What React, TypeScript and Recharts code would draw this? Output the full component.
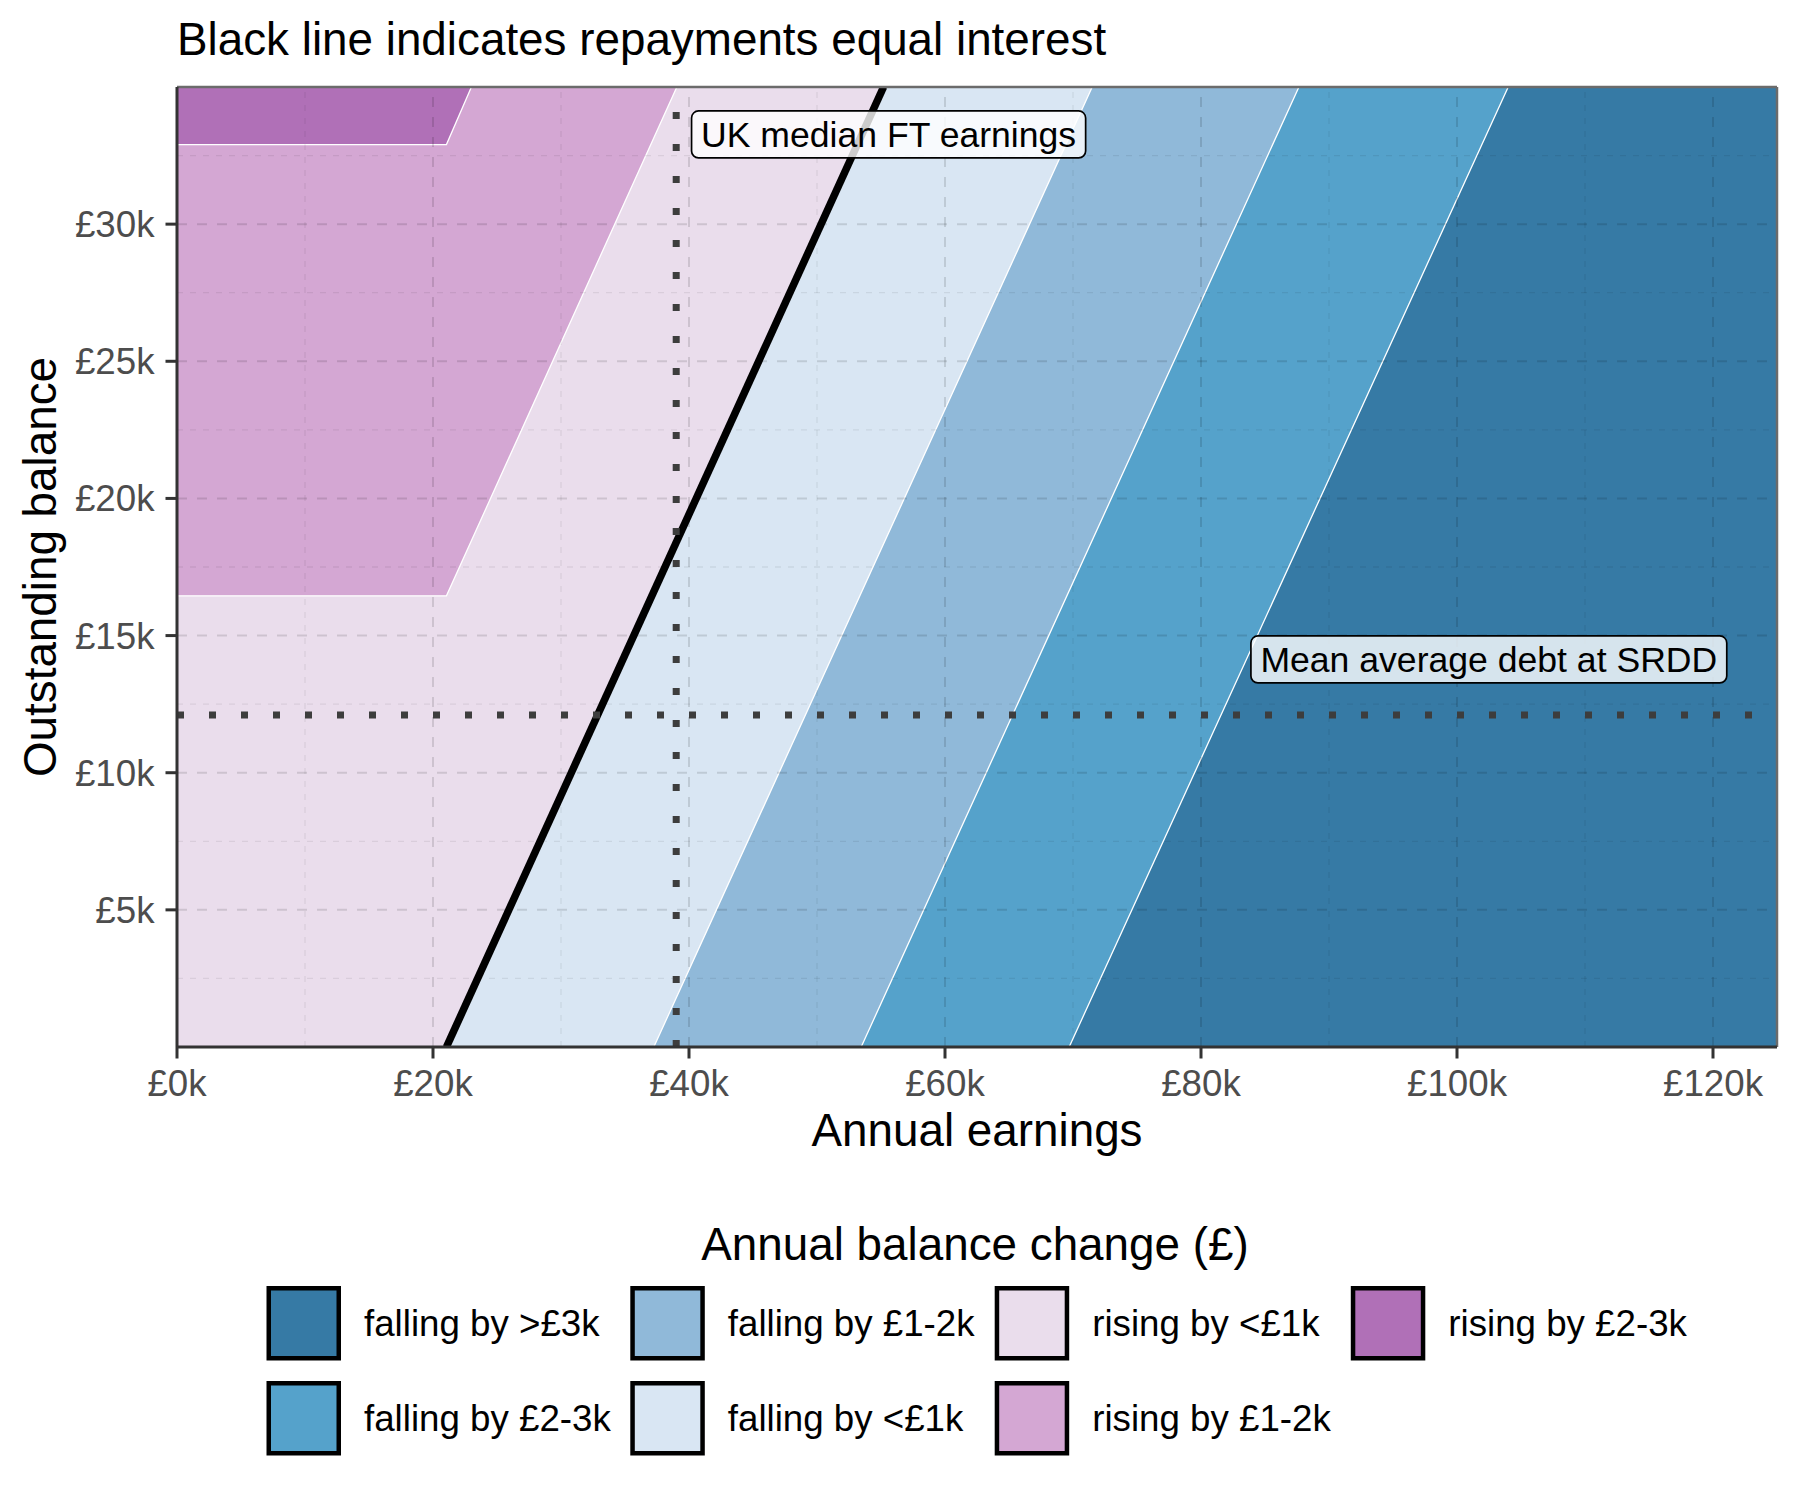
import React, { useLayoutEffect, useRef, useState } from "react";
import {
  ComposedChart,
  Area,
  Line,
  XAxis,
  YAxis,
  ReferenceArea,
  ReferenceLine,
  ReferenceDot,
} from "recharts";

const FONT = "'Liberation Sans', Arial, Helvetica, sans-serif";

// band edges (earnings x, balance y), corners
const fall3kEdge = [
  { x: 0, y: 0 },
  { x: 69700, y: 0 },
  { x: 104000, y: 35000 },
  { x: 125000, y: 35000 },
];
const fall2kEdge = [
  { x: 0, y: 0 },
  { x: 53450, y: 0 },
  { x: 87650, y: 35000 },
  { x: 125000, y: 35000 },
];
const fall1kEdge = [
  { x: 0, y: 0 },
  { x: 37250, y: 0 },
  { x: 71500, y: 35000 },
  { x: 125000, y: 35000 },
];
const breakEvenEdge = [
  { x: 0, y: 0 },
  { x: 21050, y: 0 },
  { x: 55200, y: 35000 },
  { x: 125000, y: 35000 },
];
const rise1kEdge = [
  { x: 0, y: 16450 },
  { x: 21050, y: 16450 },
  { x: 39050, y: 35000 },
  { x: 125000, y: 35000 },
];
const rise2kEdge = [
  { x: 0, y: 32900 },
  { x: 21050, y: 32900 },
  { x: 23000, y: 35000 },
  { x: 125000, y: 35000 },
];

// black line: repayments equal interest
const repayEqualsInterest = [
  { x: 21050, y: 0 },
  { x: 55200, y: 35000 },
];

const categories = [
  "falling by >£3k",
  "falling by £2-3k",
  "falling by £1-2k",
  "falling by <£1k",
  "rising by <£1k",
  "rising by £1-2k",
  "rising by £2-3k",
];
const categoryColors = [
  "#367AA5",
  "#55A2CB",
  "#90B9D9",
  "#D9E6F3",
  "#EADDEC",
  "#D4A7D3",
  "#B070B7",
];
// edge above which each category (from index 1) is painted
const bandEdges = [fall3kEdge, fall2kEdge, fall1kEdge, breakEvenEdge, rise1kEdge, rise2kEdge];

const xTicks = [0, 20000, 40000, 60000, 80000, 100000, 120000];
const xTickLabels = ["£0k", "£20k", "£40k", "£60k", "£80k", "£100k", "£120k"];
const yTicks = [5000, 10000, 15000, 20000, 25000, 30000];
const yTickLabels = ["£5k", "£10k", "£15k", "£20k", "£25k", "£30k"];
const xMinor = [10000, 30000, 50000, 70000, 90000, 110000];
const yMinor = [2500, 7500, 12500, 17500, 22500, 27500, 32500];

const medianEarnings = 39000;
const meanDebt = 12100;
const notes = [
  { text: "UK median FT earnings", x: 40200, y: 33270 },
  { text: "Mean average debt at SRDD", x: 83900, y: 14130 },
];

// legend layout (column-major, 2 rows)
const legendCols = [266.5, 630.3, 994.7, 1350.8];
const legendRows = [1286, 1381];

function XTick(props: any) {
  const { x, y, payload } = props;
  const i = xTicks.indexOf(payload.value);
  return (
    <text x={x} y={y + 35} textAnchor="middle" fill="#4D4D4D" fontSize={36.7} fontFamily={FONT}>
      {xTickLabels[i]}
    </text>
  );
}

function YTick(props: any) {
  const { x, y, payload } = props;
  const i = yTicks.indexOf(payload.value);
  return (
    <text x={x} y={y + 13} textAnchor="end" fill="#4D4D4D" fontSize={36.7} fontFamily={FONT}>
      {yTickLabels[i]}
    </text>
  );
}

function BoxLabel({ cx, cy, text }: { cx: number; cy: number; text: string }) {
  const ref = useRef<SVGTextElement>(null);
  const [w, setW] = useState(text.length * 17);
  useLayoutEffect(() => {
    if (ref.current) setW(ref.current.getComputedTextLength());
  }, [text]);
  const pad = 9.5;
  return (
    <g>
      <rect
        x={cx}
        y={cy - 23.5}
        width={w + pad * 2}
        height={47}
        rx={7}
        fill="#ffffff"
        fillOpacity={0.8}
        stroke="#000"
        strokeWidth={1.7}
      />
      <text ref={ref} x={cx + pad} y={cy + 12.5} fontSize={35.6} fontFamily={FONT} fill="#000">
        {text}
      </text>
    </g>
  );
}

const gridMajor = { stroke: "rgba(0,0,0,0.12)", strokeWidth: 2, strokeDasharray: "10 10" };
const gridMinor = { stroke: "rgba(0,0,0,0.07)", strokeWidth: 1.3, strokeDasharray: "6 7" };
const dotted = { stroke: "#3d3d3d", strokeWidth: 7, strokeDasharray: "7 25" };

export default function App() {
  return (
    <div style={{ position: "relative", width: 1800, height: 1500, background: "#fff" }}>
      <style>{"body{margin:0}"}</style>
      <ComposedChart width={1800} height={1500} margin={{ top: 87, right: 23, bottom: 393, left: 117 }}>
        <XAxis
          type="number"
          dataKey="x"
          domain={[0, 125000]}
          ticks={xTicks}
          interval={0}
          allowDataOverflow
          height={60}
          tickSize={11.5}
          tickMargin={2}
          axisLine={{ stroke: "#333333", strokeWidth: 3 }}
          tickLine={{ stroke: "#333333", strokeWidth: 3 }}
          tick={(p: any) => <XTick {...p} />}
        />
        <YAxis
          type="number"
          dataKey="y"
          domain={[0, 35000]}
          ticks={yTicks}
          interval={0}
          allowDataOverflow
          width={60}
          tickSize={11.5}
          tickMargin={11}
          axisLine={{ stroke: "#333333", strokeWidth: 3 }}
          tickLine={{ stroke: "#333333", strokeWidth: 3 }}
          tick={(p: any) => <YTick {...p} />}
        />

        <ReferenceArea
          x1={0}
          x2={125000}
          y1={0}
          y2={35000}
          fill={categoryColors[0]}
          fillOpacity={1}
          stroke="none"
          zIndex={50}
        />
        {bandEdges.map((edge, i) => (
          <Area
            key={categories[i + 1]}
            data={edge}
            dataKey="y"
            type="linear"
            baseValue={35000}
            fill={categoryColors[i + 1]}
            fillOpacity={1}
            stroke="#ffffff"
            strokeWidth={1.3}
            dot={false}
            activeDot={false}
            isAnimationActive={false}
          />
        ))}

        {xMinor.map((v) => (
          <ReferenceLine key={`xm${v}`} x={v} {...gridMinor} zIndex={150} />
        ))}
        {yMinor.map((v) => (
          <ReferenceLine key={`ym${v}`} y={v} {...gridMinor} zIndex={150} />
        ))}
        {xTicks.slice(1).map((v) => (
          <ReferenceLine key={`xM${v}`} x={v} {...gridMajor} zIndex={150} />
        ))}
        {yTicks.map((v) => (
          <ReferenceLine key={`yM${v}`} y={v} {...gridMajor} zIndex={150} />
        ))}

        <Line
          data={repayEqualsInterest}
          dataKey="y"
          type="linear"
          stroke="#000000"
          strokeWidth={7.5}
          dot={false}
          activeDot={false}
          isAnimationActive={false}
        />

        <ReferenceLine x={medianEarnings} {...dotted} zIndex={450} />
        <ReferenceLine y={meanDebt} {...dotted} zIndex={450} />

        <ReferenceLine y={35000} stroke="#6b6b6b" strokeWidth={2.5} zIndex={460} />
        <ReferenceLine x={125000} stroke="#6b6b6b" strokeWidth={2.5} zIndex={460} />

        {notes.map((n) => (
          <ReferenceDot
            key={n.text}
            x={n.x}
            y={n.y}
            r={0}
            zIndex={700}
            shape={(p: any) => <BoxLabel cx={p.cx} cy={p.cy} text={n.text} />}
          />
        ))}
      </ComposedChart>

      <svg
        width={1800}
        height={1500}
        style={{ position: "absolute", left: 0, top: 0, pointerEvents: "none" }}
        fontFamily={FONT}
      >
        <text x={177} y={55} fontSize={45.8} fill="#000">
          Black line indicates repayments equal interest
        </text>
        <text x={977} y={1146} fontSize={45.8} fill="#000" textAnchor="middle">
          Annual earnings
        </text>
        <text transform="translate(56,567) rotate(-90)" fontSize={45.8} fill="#000" textAnchor="middle">
          Outstanding balance
        </text>
        <text x={975} y={1260} fontSize={45.8} fill="#000" textAnchor="middle">
          Annual balance change (£)
        </text>
        {categories.map((c, i) => {
          const left = legendCols[Math.floor(i / 2)];
          const top = legendRows[i % 2];
          return (
            <g key={c}>
              <rect
                x={left + 2.25}
                y={top + 2.25}
                width={70}
                height={70}
                fill={categoryColors[i]}
                stroke="#000"
                strokeWidth={4.5}
              />
              <text x={left + 97.5} y={top + 37.25 + 13.2} fontSize={36.7} fill="#000">
                {c}
              </text>
            </g>
          );
        })}
      </svg>
    </div>
  );
}
